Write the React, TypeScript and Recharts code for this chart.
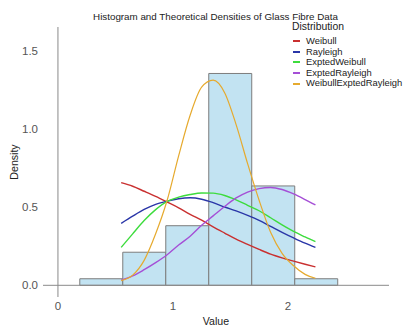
import React from 'react';
import { ComposedChart, Line, XAxis, YAxis, ReferenceArea, ReferenceLine } from 'recharts';

// histogram bins (glass fibre strength, density scale)
const binEdges = [0.19, 0.564, 0.938, 1.312, 1.686, 2.06, 2.434];
const binDensity = [0.042, 0.212, 0.382, 1.358, 0.637, 0.042];

// grid the fitted curves are drawn on
const xs = [0.55, 0.65, 0.75, 0.85, 0.95, 1.05, 1.15, 1.25, 1.35, 1.45, 1.55, 1.65, 1.75, 1.85, 1.95, 2.05, 2.15, 2.24];

const weibull = [0.658, 0.635, 0.603, 0.57, 0.534, 0.497, 0.455, 0.418, 0.375, 0.335, 0.296, 0.262, 0.23, 0.2, 0.176, 0.155, 0.135, 0.118];
const rayleigh = [0.397, 0.443, 0.486, 0.519, 0.54, 0.555, 0.561, 0.552, 0.53, 0.502, 0.477, 0.448, 0.416, 0.378, 0.34, 0.304, 0.27, 0.243];
const exptedWeibull = [0.243, 0.33, 0.415, 0.485, 0.538, 0.565, 0.582, 0.592, 0.591, 0.576, 0.548, 0.513, 0.478, 0.433, 0.387, 0.345, 0.31, 0.28];
const exptedRayleigh = [0.033, 0.06, 0.1, 0.145, 0.196, 0.258, 0.315, 0.385, 0.445, 0.505, 0.56, 0.598, 0.62, 0.627, 0.614, 0.586, 0.55, 0.515];
const weibullExptedRayleigh = [0.03, 0.065, 0.16, 0.33, 0.545, 0.83, 1.09, 1.27, 1.315, 1.235, 1.03, 0.78, 0.545, 0.34, 0.205, 0.125, 0.07, 0.045];

const xTicks = [0, 1, 2];
const yTicks = [0, 0.5, 1, 1.5];

const series = [
  { key: 'Weibull', values: weibull, color: '#c93030', width: 1.4 },
  { key: 'Rayleigh', values: rayleigh, color: '#2a36a8', width: 1.4 },
  { key: 'ExptedWeibull', values: exptedWeibull, color: '#3ddc3d', width: 1.4 },
  { key: 'ExptedRayleigh', values: exptedRayleigh, color: '#a54fd6', width: 1.4 },
  { key: 'WeibullExptedRayleigh', values: weibullExptedRayleigh, color: '#e6aa2e', width: 1.2 },
];

const data = xs.map((x, i) => {
  const row: Record<string, number> = { x };
  series.forEach(s => { row[s.key] = s.values[i]; });
  return row;
});

const font = '"Liberation Sans", Arial, sans-serif';

export default function App() {
  return (
    <div style={{ position: 'absolute', left: 0, top: 0, width: 417, height: 326, background: '#fff', fontFamily: font }}>
      <div style={{ position: 'absolute', left: 0, width: 431, top: 11, textAlign: 'center', fontSize: 9.8, color: '#222', lineHeight: '12px' }}>
        Histogram and Theoretical Densities of Glass Fibre Data
      </div>

      <ComposedChart width={417} height={326} data={data} margin={{ top: 27, right: 28, bottom: 0, left: 0 }}>
        <XAxis
          dataKey="x"
          type="number"
          domain={[-0.13, 2.88]}
          ticks={xTicks}
          allowDataOverflow
          axisLine={false}
          tickLine={false}
          tickSize={3}
          tickMargin={2}
          height={29}
          tick={{ fontSize: 11.5, fill: '#555', fontFamily: font }}
          label={{ value: 'Value', position: 'insideBottom', offset: 1, fontSize: 10.6, fill: '#222', fontFamily: font }}
        />
        <YAxis
          type="number"
          domain={[-0.075, 1.656]}
          ticks={yTicks}
          allowDataOverflow
          axisLine={false}
          tickLine={false}
          tickSize={3}
          tickMargin={2}
          width={43}
          tickFormatter={(v: number) => v.toFixed(1)}
          tick={{ fontSize: 11.5, fill: '#555', fontFamily: font }}
          label={{ value: 'Density', angle: -90, position: 'insideLeft', offset: 14, textAnchor: 'middle', fontSize: 10.6, fill: '#222', fontFamily: font }}
        />

        {binDensity.map((d, i) => (
          <ReferenceArea
            key={`bin-${i}`}
            x1={binEdges[i]}
            x2={binEdges[i + 1]}
            y1={0}
            y2={d}
            fill="#c2e3f2"
            fillOpacity={1}
            stroke="#7d7d7d"
            strokeWidth={1}
          />
        ))}

        <ReferenceLine y={0} stroke="#8a8a8a" strokeWidth={1} />
        <ReferenceLine x={0} stroke="#8a8a8a" strokeWidth={1} />

        {series.map(s => (
          <Line
            key={s.key}
            dataKey={s.key}
            type="monotone"
            stroke={s.color}
            strokeWidth={s.width}
            dot={false}
            activeDot={false}
            isAnimationActive={false}
          />
        ))}
      </ComposedChart>

      {/* legend */}
      <div style={{ position: 'absolute', left: 292, top: 21, color: '#222' }}>
        <div style={{ fontSize: 10.4, lineHeight: '12px', height: 15 }}>Distribution</div>
        {series.map(s => (
          <div key={s.key} style={{ display: 'flex', alignItems: 'center', height: 10.6, fontSize: 9.4, lineHeight: '10.6px' }}>
            <span style={{ display: 'inline-block', width: 7, height: 2, background: s.color, marginLeft: 1, marginRight: 6 }} />
            <span>{s.key}</span>
          </div>
        ))}
      </div>
    </div>
  );
}
